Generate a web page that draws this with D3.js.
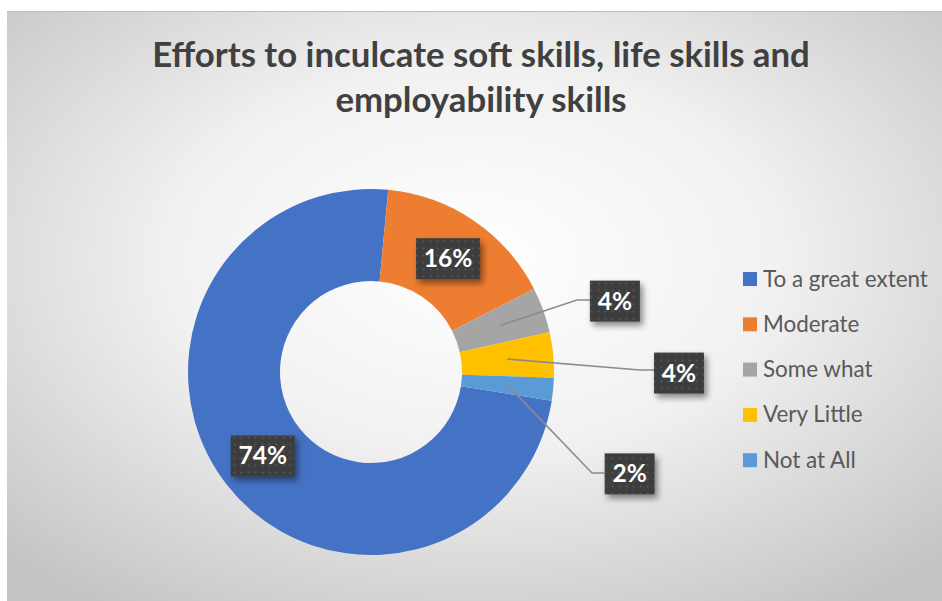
<!DOCTYPE html>
<html><head><meta charset="utf-8">
<script src="https://cdn.jsdelivr.net/npm/d3@7"></script>
<style>body{margin:0;background:#fff}svg{display:block}</style>
</head><body>
<svg id="c" width="942" height="601"></svg>
<script>
const categories = ["To a great extent","Moderate","Some what","Very Little","Not at All"];
const values = [74,16,4,4,2];
const labels = ["74%","16%","4%","4%","2%"];
const colors = ["#4472C4","#ED7D31","#A5A5A5","#FFC000","#5B9BD5"];
const titleLines = ["Efforts to inculcate soft skills, life skills and","employability skills"];

// label layout (polar: angle in degrees from 12 o'clock, radius in px; inside = at centroid)
const labelLayout = [
  {inside:true},
  {inside:true},
  {angle:73.8, r:254, elbow:[577,300]},
  {angle:90.2, r:308, elbow:[640,370]},
  {angle:111.5, r:278, elbow:[592,473]}
];

const W=942,H=601;
const svg=d3.select("#c");
const defs=svg.append("defs");
const rg=defs.append("radialGradient").attr("id","bg").attr("cx","50%").attr("cy","42%").attr("r","72%");
rg.append("stop").attr("offset","0%").attr("stop-color","#ffffff");
rg.append("stop").attr("offset","45%").attr("stop-color","#f1f1f1");
rg.append("stop").attr("offset","100%").attr("stop-color","#c3c3c3");
const pat=defs.append("pattern").attr("id","dots").attr("width",7).attr("height",7).attr("patternUnits","userSpaceOnUse");
pat.append("rect").attr("width",7).attr("height",7).attr("fill","#3d3d3d");
pat.append("circle").attr("cx",3.5).attr("cy",3.5).attr("r",1.1).attr("fill","#555");
const f=defs.append("filter").attr("id","sh").attr("x","-30%").attr("y","-30%").attr("width","170%").attr("height","170%");
f.append("feDropShadow").attr("dx",3).attr("dy",4).attr("stdDeviation",3).attr("flood-color","#000").attr("flood-opacity",0.45);

svg.append("rect").attr("x",7).attr("y",11).attr("width",W-7).attr("height",H-11).attr("fill","url(#bg)");
svg.append("line").attr("x1",7).attr("x2",W).attr("y1",11.5).attr("y2",11.5).attr("stroke","#bdbdbd");

// title
const titleY=[67,112];
let titleFs=32;
titleLines.forEach((t,i)=>{
  const tx=svg.append("text").attr("x",481).attr("y",titleY[i]).attr("text-anchor","middle")
    .attr("font-family","Lato, 'Open Sans', sans-serif").attr("font-weight","bold").attr("font-size",titleFs)
    .attr("fill","#404040").text(t);
  if(i===0){
    const w=tx.node().getComputedTextLength();
    titleFs=32*658/w;
    tx.attr("font-size",titleFs);
  }
});

// donut
const cx=371,cy=372,R=183,r0=91;
const startA=99*Math.PI/180;
const pie=d3.pie().sort(null).value(d=>d).startAngle(startA).endAngle(startA+2*Math.PI);
const arcs=pie(values);
const arc=d3.arc().innerRadius(r0).outerRadius(R);
const g=svg.append("g").attr("transform",`translate(${cx},${cy})`);
g.selectAll("path").data(arcs).join("path").attr("d",arc).attr("fill",(d,i)=>colors[i]);

// labels
const cArc=d3.arc().innerRadius((r0+R)/2).outerRadius((r0+R)/2);
const bw=[64,64,50,50,50], bh=41;
arcs.forEach((a,i)=>{
  const L=labelLayout[i];
  const c=cArc.centroid(a);
  let px,py;
  if(L.inside){px=cx+c[0];py=cy+c[1];}
  else{
    const ang=L.angle*Math.PI/180;
    px=cx+L.r*Math.sin(ang); py=cy-L.r*Math.cos(ang);
    const left=px-bw[i]/2;
    svg.append("polyline").attr("points",[[cx+c[0],cy+c[1]],L.elbow,[left,L.elbow[1]]].map(p=>p.join(",")).join(" "))
      .attr("fill","none").attr("stroke","#8c8c8c").attr("stroke-width",1.6);
  }
  svg.append("rect").attr("x",px-bw[i]/2).attr("y",py-bh/2).attr("width",bw[i]).attr("height",bh)
    .attr("fill","url(#dots)").attr("filter","url(#sh)");
  svg.append("text").attr("x",px).attr("y",py+8.5).attr("text-anchor","middle")
    .attr("font-family","Lato, sans-serif").attr("font-weight","bold").attr("font-size",24.5)
    .attr("fill","#fff").text(labels[i]);
});

// legend
const leg=svg.append("g");
let legFs=20;
categories.forEach((c,i)=>{
  const y=279+i*45.3;
  leg.append("rect").attr("x",743).attr("y",y-7).attr("width",14).attr("height",14).attr("fill",colors[i]);
  const t=leg.append("text").attr("x",763).attr("y",y+7.5).attr("font-family","Lato, sans-serif").attr("font-size",legFs)
    .attr("fill","#595959").text(c);
  if(i===0){ legFs=20*165/t.node().getComputedTextLength(); t.attr("font-size",legFs); }
});
</script>
</body></html>
